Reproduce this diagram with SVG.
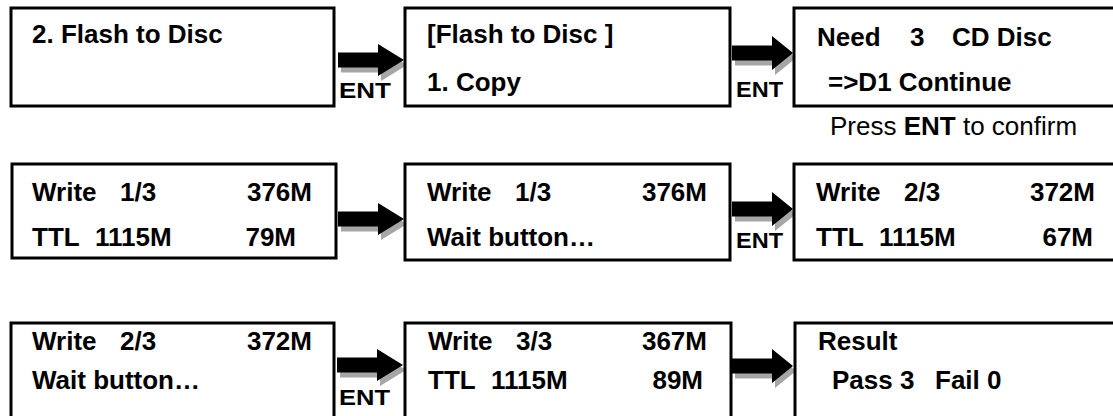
<svg xmlns="http://www.w3.org/2000/svg" width="1113" height="416" viewBox="0 0 1113 416">
<defs>
<style>
.box{fill:#fff;stroke:#000;stroke-width:3}
.t{font-family:"Liberation Sans",Arial,sans-serif;font-weight:bold;font-size:26px;fill:#000}
.r{font-family:"Liberation Sans",Arial,sans-serif;font-size:26px;fill:#000}
.ent{font-family:"Liberation Sans",Arial,sans-serif;font-weight:bold;font-size:22px;fill:#000}
.sh{fill:#a6a6a6}
.ar{fill:#000}
</style>
<path id="arr" d="M0,-7.5 H40 V-16 L66,0 L40,16 V7.5 H0 Z"/>
<path id="arr2" d="M0,-7.5 H40 V-17 L61,0 L40,17 V7.5 H0 Z"/>
</defs>
<rect width="1113" height="416" fill="#fff"/>

<g id="connectors">
  <g transform="translate(338,60)"><use href="#arr" class="sh" transform="translate(3,5)"/><use href="#arr" class="ar"/></g>
  <text class="ent" x="339" y="98" textLength="52" lengthAdjust="spacingAndGlyphs">ENT</text>
  <g transform="translate(732,53)"><use href="#arr2" class="sh" transform="translate(3,5)"/><use href="#arr2" class="ar"/></g>
  <text class="ent" x="736" y="97" textLength="47" lengthAdjust="spacingAndGlyphs">ENT</text>

  <g transform="translate(338,219)"><use href="#arr" class="sh" transform="translate(3,5)"/><use href="#arr" class="ar"/></g>
  <g transform="translate(732,209)"><use href="#arr2" class="sh" transform="translate(3,5)"/><use href="#arr2" class="ar"/></g>
  <text class="ent" x="736" y="248" textLength="47" lengthAdjust="spacingAndGlyphs">ENT</text>

  <g transform="translate(337,365)"><use href="#arr" class="sh" transform="translate(3,5)"/><use href="#arr" class="ar"/></g>
  <text class="ent" x="339" y="405" textLength="51" lengthAdjust="spacingAndGlyphs">ENT</text>
  <g transform="translate(732,366)"><use href="#arr2" class="sh" transform="translate(3,5)"/><use href="#arr2" class="ar"/></g>
</g>

<g id="n1">
  <rect class="box" x="11" y="8" width="323" height="98"/>
  <text class="t" x="32" y="43">2. Flash to Disc</text>
</g>
<g id="n2">
  <rect class="box" x="405" y="8" width="325" height="98"/>
  <text class="t" x="427" y="43">[Flash to Disc ]</text>
  <text class="t" x="427" y="91">1. Copy</text>
</g>
<g id="n3">
  <rect class="box" x="794" y="8" width="330" height="98"/>
  <text class="t" x="817" y="46">Need</text>
  <text class="t" x="910" y="46">3</text>
  <text class="t" x="952" y="46">CD Disc</text>
  <text class="t" x="828" y="91">=&gt;D1 Continue</text>
  <text class="r" x="830" y="135">Press <tspan font-weight="bold">ENT</tspan> to confirm</text>
</g>

<g id="n4">
  <rect class="box" x="12" y="164" width="324" height="94"/>
  <text class="t" x="32" y="201">Write</text>
  <text class="t" x="120" y="201">1/3</text>
  <text class="t" x="312" y="201" text-anchor="end">376M</text>
  <text class="t" x="32" y="246">TTL</text>
  <text class="t" x="95" y="246">1115M</text>
  <text class="t" x="296" y="246" text-anchor="end">79M</text>
</g>
<g id="n5">
  <rect class="box" x="405" y="164" width="325" height="96"/>
  <text class="t" x="427" y="201">Write</text>
  <text class="t" x="515" y="201">1/3</text>
  <text class="t" x="707" y="201" text-anchor="end">376M</text>
  <text class="t" x="427" y="246">Wait button…</text>
</g>
<g id="n6">
  <rect class="box" x="794" y="164" width="330" height="96"/>
  <text class="t" x="816" y="201">Write</text>
  <text class="t" x="904" y="201">2/3</text>
  <text class="t" x="1095" y="201" text-anchor="end">372M</text>
  <text class="t" x="816" y="246">TTL</text>
  <text class="t" x="879" y="246">1115M</text>
  <text class="t" x="1093" y="246" text-anchor="end">67M</text>
</g>

<g id="n7">
  <rect class="box" x="11" y="323" width="323" height="100"/>
  <text class="t" x="32" y="350">Write</text>
  <text class="t" x="120" y="350">2/3</text>
  <text class="t" x="312" y="350" text-anchor="end">372M</text>
  <text class="t" x="32" y="389">Wait button…</text>
</g>
<g id="n8">
  <rect class="box" x="405" y="323" width="326" height="100"/>
  <text class="t" x="428" y="350">Write</text>
  <text class="t" x="516" y="350">3/3</text>
  <text class="t" x="707" y="350" text-anchor="end">367M</text>
  <text class="t" x="428" y="389">TTL</text>
  <text class="t" x="491" y="389">1115M</text>
  <text class="t" x="703" y="389" text-anchor="end">89M</text>
</g>
<g id="n9">
  <rect class="box" x="795" y="323" width="330" height="100"/>
  <text class="t" x="818" y="350">Result</text>
  <text class="t" x="832" y="389">Pass 3</text>
  <text class="t" x="935" y="389">Fail 0</text>
</g>
</svg>
